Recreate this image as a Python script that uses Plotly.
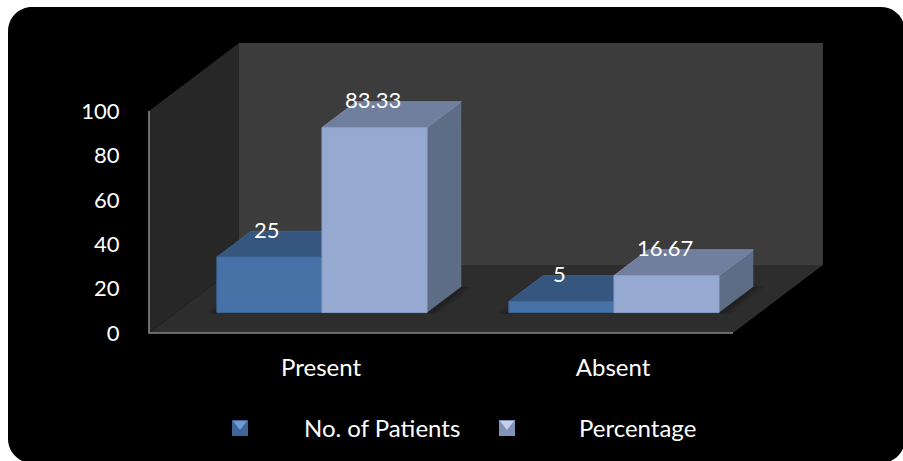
import plotly.graph_objects as go

# Chart values
categories = ["Present", "Absent"]
series_names = ["No. of Patients", "Percentage"]
patients = [25, 5]
percentage = [83.33, 16.67]
value_labels = [["25", "5"], ["83.33", "16.67"]]
y_ticks = [0, 20, 40, 60, 80, 100]

W, H = 903, 461
FONT = "Lato"
TEXT_SIZE = 24
NUM_SIZE = 22

# Pixel placement of the front plane of the chart box
X0_PX, X1_PX = 149, 733
Y0_PX, Y100_PX = 333, 111

# Oblique projection of the 3D box: depth 0 is the front plane, 1 the back wall
DEPTH_X = 0.308   # category units
DEPTH_Y = 30.6    # value units
BAR_WIDTH = 0.36
BAR_FRONT = 0.30
BAR_BACK = 0.68

WALL = "#3c3c3c"
SIDE_WALL = "#272727"
FLOOR = "#2d2d2d"
AXIS = "#858585"
FRONT = ["#4672a8", "#95a9d1"]
FRONT_EDGE = ["#3f6999", "#8a9ec8"]
TOP = ["#34567f", "#707f9d"]
TOP_EDGE = ["#3b618f", "#7c8cab"]
SIDE = ["#2c4a6e", "#5e6d86"]


def project(x, v, d):
    return x + d * DEPTH_X, v + d * DEPTH_Y


def polygon(points, fill, line=None):
    pts = [project(*p) for p in points]
    pts.append(pts[0])
    return go.Scatter(
        x=[p[0] for p in pts], y=[p[1] for p in pts],
        mode="lines", fill="toself", fillcolor=fill,
        line=dict(color=line or fill, width=1 if line else 0),
        hoverinfo="skip", showlegend=False,
    )


traces = []
n = len(categories)

# Walls and floor of the chart box
traces.append(polygon([(0, 100, 1), (n, 100, 1), (n, 0, 1), (0, 0, 1)], WALL))
traces.append(polygon([(0, 100, 0), (0, 100, 1), (0, 0, 1), (0, 0, 0)], SIDE_WALL))
traces.append(polygon([(0, 0, 0), (n, 0, 0), (n, 0, 1), (0, 0, 1)], FLOOR))

# Soft contact shadow around each cluster
for i in range(n):
    cx = i + 0.5
    for grow, alpha in ((0.04, 0.07), (0.028, 0.09), (0.015, 0.12)):
        x0, x1 = cx - BAR_WIDTH - grow, cx + BAR_WIDTH + grow
        traces.append(polygon(
            [(x0, -0.5, BAR_FRONT), (x1, -0.5, BAR_FRONT),
             (x1, 0, BAR_BACK), (x0, 0, BAR_BACK)],
            f"rgba(0,0,0,{alpha})"))

# Extruded bars, painted left to right so nearer faces cover hidden ones
for i in range(n):
    cx = i + 0.5
    for s, values in enumerate((patients, percentage)):
        v = values[i]
        x0 = cx + (s - 1) * BAR_WIDTH
        x1 = x0 + BAR_WIDTH
        traces.append(polygon(
            [(x1, 0, BAR_FRONT), (x1, 0, BAR_BACK), (x1, v, BAR_BACK), (x1, v, BAR_FRONT)],
            SIDE[s]))
        traces.append(polygon(
            [(x0, v, BAR_FRONT), (x1, v, BAR_FRONT), (x1, v, BAR_BACK), (x0, v, BAR_BACK)],
            TOP[s], line=TOP_EDGE[s]))
        traces.append(polygon(
            [(x0, 0, BAR_FRONT), (x1, 0, BAR_FRONT), (x1, v, BAR_FRONT), (x0, v, BAR_FRONT)],
            FRONT[s], line=FRONT_EDGE[s]))

# Axis lines on the front plane
traces.append(go.Scatter(x=[0, 0, n], y=[100, 0, 0], mode="lines",
                         line=dict(color=AXIS, width=1.6), hoverinfo="skip",
                         showlegend=False))

fig = go.Figure(traces)

# Value labels sit above the top face of each bar
annotations = []
for s, values in enumerate((patients, percentage)):
    for i, v in enumerate(values):
        bx, by = project(i + 0.5 + (s - 0.5) * BAR_WIDTH, v, BAR_FRONT)
        annotations.append(dict(x=bx, y=by, xref="x", yref="y", text=value_labels[s][i],
                                showarrow=False, xanchor="center", yanchor="middle",
                                xshift=-2, yshift=28,
                                font=dict(family=FONT, size=NUM_SIZE, color="white")))

# Legend row
legend_x = [302, 577]
swatch_x = [232, 499]
for name, lx in zip(series_names, legend_x):
    annotations.append(dict(x=lx / W, y=1 - 427 / H, xref="paper", yref="paper", text=name,
                            showarrow=False, xanchor="left", yanchor="middle",
                            font=dict(family=FONT, size=TEXT_SIZE, color="white")))


def px(x0, y0, x1, y1, **kw):
    return dict(type="rect", xref="paper", yref="paper", x0=x0 / W, x1=x1 / W,
                y0=1 - y0 / H, y1=1 - y1 / H, layer="above", **kw)


def path(points, fill):
    d = "M " + " L ".join(f"{x / W:.5f},{1 - y / H:.5f}" for x, y in points) + " Z"
    return dict(type="path", path=d, xref="paper", yref="paper", fillcolor=fill,
                line=dict(width=0), layer="above")


# Rounded black panel behind the chart
L, T, R, B, C = 8, 7, 905, 463, 24
corner = 0.55 * C
panel = (
    f"M {(L + C) / W:.5f},{1 - T / H:.5f} L {(R - C) / W:.5f},{1 - T / H:.5f} "
    f"C {(R - C + corner) / W:.5f},{1 - T / H:.5f} {R / W:.5f},{1 - (T + C - corner) / H:.5f} {R / W:.5f},{1 - (T + C) / H:.5f} "
    f"L {R / W:.5f},{1 - (B - C) / H:.5f} "
    f"C {R / W:.5f},{1 - (B - C + corner) / H:.5f} {(R - C + corner) / W:.5f},{1 - B / H:.5f} {(R - C) / W:.5f},{1 - B / H:.5f} "
    f"L {(L + C) / W:.5f},{1 - B / H:.5f} "
    f"C {(L + C - corner) / W:.5f},{1 - B / H:.5f} {L / W:.5f},{1 - (B - C + corner) / H:.5f} {L / W:.5f},{1 - (B - C) / H:.5f} "
    f"L {L / W:.5f},{1 - (T + C) / H:.5f} "
    f"C {L / W:.5f},{1 - (T + C - corner) / H:.5f} {(L + C - corner) / W:.5f},{1 - T / H:.5f} {(L + C) / W:.5f},{1 - T / H:.5f} Z"
)
shapes = [dict(type="path", path=panel, xref="paper", yref="paper", fillcolor="black",
               line=dict(width=0), layer="below")]

# Bevelled legend keys
key_light = ["#6f9bd1", "#c5d2ea"]
key_dark = ["#3c6494", "#7f92b8"]
for s, sx in enumerate(swatch_x):
    sy = 420
    size = 16
    shapes.append(px(sx, sy, sx + size, sy + size, fillcolor=key_dark[s], line=dict(width=0)))
    shapes.append(path([(sx + 1, sy + 1), (sx + size - 1, sy + 1), (sx + size / 2, sy + size * 0.62)],
                       key_light[s]))

# The axes fill the whole page so the extruded box is not clipped
unit_x = (X1_PX - X0_PX) / n
unit_y = (Y0_PX - Y100_PX) / 100

fig.update_layout(
    template="none",
    width=W, height=H, autosize=False,
    margin=dict(l=0, r=0, t=0, b=0, pad=0, autoexpand=False),
    paper_bgcolor="white", plot_bgcolor="rgba(0,0,0,0)",
    showlegend=False, annotations=annotations, shapes=shapes,
    font=dict(family=FONT, size=TEXT_SIZE, color="white"),
    xaxis=dict(
        domain=[0, 1], range=[-X0_PX / unit_x, (W - X0_PX) / unit_x],
        tickmode="array", tickvals=[i + 0.5 + BAR_FRONT * DEPTH_X - 0.003 for i in range(n)],
        ticktext=categories, ticks="outside", ticklen=13, tickcolor="rgba(0,0,0,0)",
        showgrid=False, zeroline=False, showline=False, fixedrange=True, automargin=False,
        anchor="free", position=1 - Y0_PX / H,
        tickfont=dict(family=FONT, size=TEXT_SIZE, color="white"),
    ),
    yaxis=dict(
        domain=[0, 1], range=[-(H - Y0_PX) / unit_y, Y0_PX / unit_y],
        tickmode="array", tickvals=y_ticks, ticks="outside", ticklen=25,
        tickcolor="rgba(0,0,0,0)", showgrid=False, zeroline=False, showline=False,
        fixedrange=True, automargin=False, anchor="free", position=X0_PX / W,
        tickfont=dict(family=FONT, size=NUM_SIZE, color="white"),
    ),
)

fig.write_html("out.html")
